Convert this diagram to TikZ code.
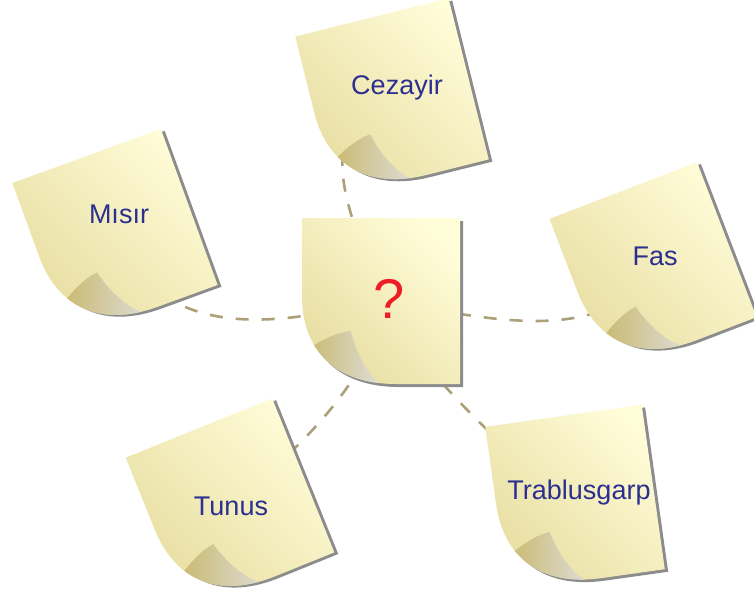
\documentclass[tikz,border=0pt]{standalone}
\usepackage{fontspec}
\setmainfont{Liberation Sans}
\definecolor{notelight}{HTML}{FFFCD8}
\definecolor{notemid}{HTML}{FEF9CE}
\definecolor{notedark}{HTML}{E8DEA2}
\definecolor{curldark}{HTML}{C6B25A}
\definecolor{curllight}{HTML}{DCDCD6}
\definecolor{shadowgray}{HTML}{8C8C8C}
\definecolor{linkcolor}{HTML}{ACA079}
\definecolor{nameblue}{HTML}{2B2F8F}
\definecolor{askred}{HTML}{EE1C25}

\begin{document}
\begin{tikzpicture}[
    x=1pt,y=-1pt,
    link/.style={line width=2.6pt, linkcolor, dash pattern=on 13pt off 13pt},
    country/.style={anchor=base, nameblue, font=\fontsize{27}{31}\selectfont},
    note/.pic={
      \fill[shadowgray, shift={(3,3)}] (-79,-83) -- (79,-83) -- (79,83) -- (15,83) .. controls (-45,83) and (-79,50) .. (-79,-5) -- cycle;
      \shade[top color=notelight, middle color=notemid, bottom color=notedark, shading angle=-45] (-79,-83) -- (79,-83) -- (79,83) -- (15,83) .. controls (-45,83) and (-79,50) .. (-79,-5) -- cycle;
      \begin{scope}
        \clip (-79,-83) -- (79,-83) -- (79,83) -- (15,83) .. controls (-45,83) and (-79,50) .. (-79,-5) -- cycle;
        \shade[left color=curldark, right color=curllight] (-67,44) .. controls (-55,37) and (-42,31) .. (-30,30) .. controls (-25,52) and (-13,74) .. (-2,82) -- (-2,95) -- (-90,95) -- (-90,44) -- cycle;
      \end{scope}
    }
    ]
    \useasboundingbox (0,0) rectangle (754,591);
    \coordinate (center) at (381,301);
    \coordinate (cezayir) at (392,98);
    \coordinate (misir) at (115,234);
    \coordinate (fas) at (653,268);
    \coordinate (tunus) at (230,505);
    \coordinate (trablus) at (575,498);
    \draw[link] (misir) .. controls +(50,116) and +(-90,20) .. (center);
    \draw[link] (center) .. controls +(80,10) and +(-53,87) .. (fas);
    \draw[link] (cezayir) .. controls +(-92,32) and +(-21,-71) .. (center);
    \draw[link] (tunus) .. controls +(70,-55) and +(-1,69) .. (center);
    \draw[link] (center) .. controls +(39,69) and +(-55,-28) .. (trablus);
    \pic at (center) {note};
    \pic[rotate=14] at (cezayir) {note};
    \pic[rotate=20] at (misir) {note};
    \pic[rotate=21] at (fas) {note};
    \pic[rotate=22] at (tunus) {note};
    \pic[rotate=8] at (trablus) {note};
    \node[country] (cezayirname) at (397,95) {Cezayir};
    \node[country] (misirname) at (119,223) {Mısır};
    \node[country] (fasname) at (655,265) {Fas};
    \node[country] (tunusname) at (231,515) {Tunus};
    \node[country] (trablusname) at (579,499) {Trablusgarp};
    \node[country, askred, font=\fontsize{56}{60}\selectfont] (question) at (389,318) {?};
  \end{tikzpicture}
\end{document}
